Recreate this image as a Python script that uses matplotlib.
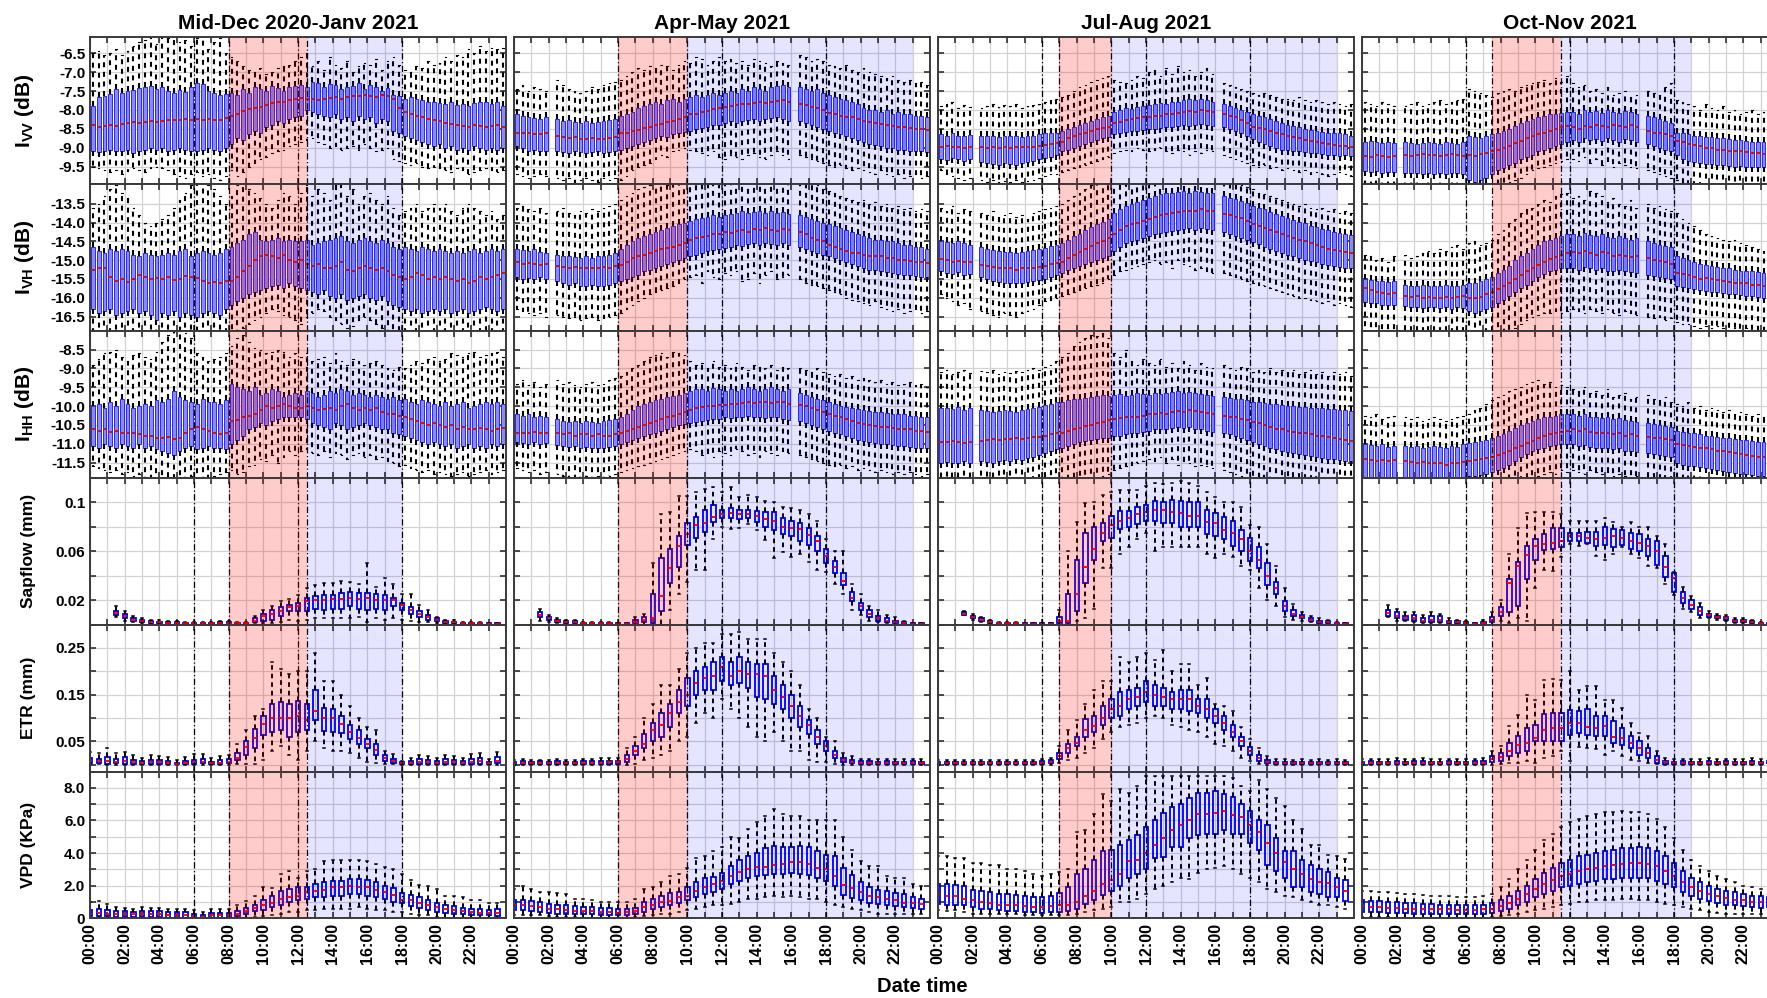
import numpy as np
import matplotlib
matplotlib.use("Agg")
import matplotlib.pyplot as plt
from matplotlib.ticker import FixedLocator, FixedFormatter

nan = float('nan')

# ---------------- radar intensities (72 boxes / day, 20-min steps) ----------------
# Column 1 : Mid-Dec 2020 - Janv 2021
vv1_med = [-8.40,-8.45,-8.42,-8.40,-8.43,-8.38,-8.35,-8.33,-8.36,-8.32,-8.30,-8.31,
           -8.30,-8.28,-8.27,-8.28,-8.25,-8.26,-8.25,-8.27,-8.24,-8.26,-8.28,-8.22,
           -8.15,-8.10,-8.02,-7.98,-7.95,-7.92,-7.88,-7.82,-7.78,-7.80,-7.75,-7.72,
           -7.68,-7.70,-7.72,-7.75,-7.70,-7.68,-7.66,-7.70,-7.65,-7.62,-7.64,-7.60,
           -7.62,-7.65,-7.60,-7.62,-7.70,-7.95,-8.05,-8.10,-8.15,-8.18,-8.25,-8.28,
           -8.30,-8.35,-8.38,-8.40,-8.42,-8.45,-8.40,-8.43,-8.46,-8.42,-8.40,-8.45]
vv1_q3 = [-7.90,-7.65,-7.62,-7.58,-7.45,-7.55,-7.50,-7.48,-7.42,-7.40,-7.38,-7.45,
          -7.40,-7.50,-7.55,-7.48,-7.52,-7.40,-7.28,-7.32,-7.50,-7.55,-7.60,-7.58,
          -7.55,-7.60,-7.45,-7.55,-7.40,-7.45,-7.50,-7.38,-7.42,-7.50,-7.40,-7.38,
          -7.35,-7.40,-7.25,-7.30,-7.40,-7.32,-7.35,-7.45,-7.40,-7.38,-7.30,-7.45,
          -7.35,-7.40,-7.50,-7.42,-7.60,-7.62,-7.70,-7.65,-7.70,-7.75,-7.80,-7.78,
          -7.82,-7.85,-7.80,-7.88,-7.85,-7.90,-7.82,-7.80,-7.78,-7.85,-7.80,-7.90]
vv1_q1 = [-9.10,-9.12,-9.08,-9.05,-9.10,-9.08,-9.05,-9.15,-9.10,-9.05,-9.00,-9.05,
          -9.02,-9.10,-9.05,-9.00,-9.05,-9.08,-9.10,-9.05,-9.00,-9.05,-9.08,-9.02,
          -8.90,-8.75,-8.80,-8.65,-8.55,-8.60,-8.45,-8.40,-8.30,-8.35,-8.25,-8.20,
          -8.15,-8.00,-8.05,-8.10,-8.15,-8.20,-8.10,-8.25,-8.20,-8.30,-8.15,-8.25,
          -8.20,-8.35,-8.25,-8.30,-8.55,-8.60,-8.70,-8.75,-8.80,-8.85,-8.90,-8.95,
          -8.90,-9.00,-8.95,-9.05,-9.00,-9.05,-8.95,-9.00,-9.05,-9.00,-9.05,-9.02]
vv1_hi = [-6.50,-6.45,-6.55,-6.50,-6.40,-6.55,-6.45,-6.30,-6.20,-6.15,-6.10,-6.25,
          -6.05,-6.10,-6.00,-6.20,-6.15,-6.30,-6.10,-6.00,-6.40,-6.20,-6.10,-6.50,
          -6.60,-6.70,-6.85,-6.95,-7.00,-6.90,-7.05,-7.00,-6.90,-6.85,-6.80,-6.70,
          -6.60,-6.50,-6.85,-6.70,-6.95,-6.60,-6.80,-6.90,-6.70,-7.00,-6.85,-6.75,
          -6.80,-6.65,-6.95,-6.70,-6.60,-6.80,-6.95,-7.00,-6.85,-6.90,-6.70,-6.80,
          -6.75,-6.60,-6.70,-6.55,-6.60,-6.40,-6.50,-6.30,-6.45,-6.35,-6.40,-6.35]
vv1_lo = [-9.50,-9.55,-9.60,-9.65,-9.58,-9.70,-9.62,-9.55,-9.60,-9.65,-9.55,-9.50,
          -9.55,-9.60,-9.70,-9.75,-9.80,-9.70,-9.65,-9.75,-9.70,-9.80,-9.85,-9.75,
          -9.60,-9.75,-9.65,-9.50,-9.40,-9.30,-9.25,-9.15,-9.10,-9.05,-8.95,-8.90,
          -8.85,-8.80,-8.75,-8.85,-8.90,-9.00,-8.95,-9.05,-9.00,-8.95,-9.05,-8.90,
          -9.00,-9.10,-9.05,-9.00,-9.30,-9.35,-9.40,-9.45,-9.40,-9.50,-9.55,-9.50,
          -9.55,-9.60,-9.65,-9.55,-9.60,-9.70,-9.65,-9.60,-9.55,-9.60,-9.65,-9.58]

vh1_med = [-15.25,-15.2,-15.22,-15.45,-15.55,-15.5,-15.58,-15.5,-15.4,-15.45,-15.5,-15.48,
           -15.5,-15.45,-15.52,-15.5,-15.42,-15.45,-15.48,-15.55,-15.6,-15.58,-15.6,-15.55,
           -15.55,-15.45,-15.3,-15.15,-15.0,-14.9,-14.85,-14.9,-14.95,-14.85,-15.0,-15.05,
           -15.0,-15.1,-15.15,-15.1,-15.2,-15.2,-15.15,-15.05,-15.25,-15.3,-15.2,-15.15,
           -15.2,-15.25,-15.2,-15.3,-15.4,-15.45,-15.5,-15.45,-15.35,-15.4,-15.5,-15.45,
           -15.5,-15.45,-15.5,-15.55,-15.5,-15.6,-15.55,-15.45,-15.5,-15.45,-15.4,-15.35]
vh1_q3 = [-14.65,-14.75,-14.8,-14.7,-14.75,-14.7,-14.75,-14.85,-14.9,-14.8,-14.85,-14.9,
          -14.85,-14.8,-14.85,-14.75,-14.7,-14.9,-14.8,-14.75,-14.8,-14.85,-14.8,-14.7,
          -14.65,-14.55,-14.45,-14.3,-14.25,-14.45,-14.5,-14.45,-14.4,-14.5,-14.45,-14.5,
          -14.5,-14.45,-14.6,-14.55,-14.5,-14.45,-14.4,-14.35,-14.5,-14.55,-14.45,-14.4,
          -14.5,-14.55,-14.45,-14.55,-14.65,-14.7,-14.65,-14.7,-14.75,-14.65,-14.7,-14.75,
          -14.7,-14.75,-14.8,-14.75,-14.8,-14.75,-14.7,-14.8,-14.75,-14.7,-14.75,-14.7]
vh1_q1 = [-16.3,-16.4,-16.35,-16.3,-16.45,-16.4,-16.35,-16.3,-16.4,-16.35,-16.45,-16.6,
          -16.4,-16.45,-16.35,-16.5,-16.4,-16.45,-16.5,-16.4,-16.35,-16.4,-16.45,-16.3,
          -16.2,-16.1,-16.0,-15.9,-15.85,-15.8,-15.75,-15.7,-15.65,-15.75,-15.6,-15.7,
          -15.75,-15.8,-15.85,-15.9,-15.8,-15.95,-16.0,-15.9,-16.05,-16.0,-15.95,-15.9,
          -16.0,-16.05,-15.95,-16.1,-16.2,-16.25,-16.3,-16.35,-16.3,-16.4,-16.35,-16.3,
          -16.35,-16.3,-16.4,-16.35,-16.3,-16.4,-16.35,-16.3,-16.25,-16.3,-16.35,-16.3]
vh1_hi = [-13.6,-13.5,-13.3,-13.1,-13.0,-13.2,-13.35,-13.6,-13.8,-14.0,-14.1,-14.0,
          -13.9,-13.8,-13.6,-13.4,-13.2,-13.0,-12.9,-12.9,-13.0,-13.1,-13.3,-13.5,
          -13.3,-13.0,-12.9,-13.1,-13.2,-13.35,-13.5,-13.6,-13.4,-13.2,-13.3,-13.5,
          -13.2,-13.0,-13.3,-13.1,-13.2,-13.4,-13.0,-12.9,-13.3,-13.1,-13.5,-13.3,
          -13.2,-13.4,-13.5,-13.3,-13.6,-13.8,-13.7,-13.6,-13.5,-13.7,-13.6,-13.5,
          -13.6,-13.5,-13.7,-13.8,-13.6,-13.5,-13.6,-13.7,-13.8,-13.7,-13.9,-13.8]
vh1_lo = [-16.9,-16.9,-16.85,-16.9,-16.9,-16.95,-16.9,-16.85,-16.9,-16.9,-16.95,-16.9,
          -16.9,-16.95,-16.9,-16.9,-16.9,-16.95,-16.9,-16.9,-16.9,-16.95,-16.9,-16.9,
          -16.9,-16.85,-16.8,-16.7,-16.6,-16.5,-16.4,-16.3,-16.35,-16.45,-16.5,-16.6,
          -16.7,-16.5,-16.4,-16.3,-16.35,-16.5,-16.6,-16.7,-16.8,-16.75,-16.6,-16.5,
          -16.6,-16.7,-16.8,-16.9,-16.9,-16.85,-16.9,-16.9,-16.95,-16.9,-16.9,-16.85,
          -16.9,-16.9,-16.85,-16.9,-16.9,-16.95,-16.9,-16.9,-16.85,-16.9,-16.9,-16.9]

hh1_med = [-10.6,-10.65,-10.62,-10.68,-10.65,-10.7,-10.72,-10.7,-10.75,-10.8,-10.78,-10.85,
           -10.85,-10.82,-10.88,-10.85,-10.7,-10.6,-10.55,-10.6,-10.65,-10.7,-10.75,-10.7,
           -10.4,-10.38,-10.3,-10.25,-10.2,-10.1,-10.0,-10.05,-10.0,-9.95,-10.0,-10.05,
           -10.05,-10.0,-10.05,-10.1,-10.08,-10.05,-10.1,-10.0,-9.95,-10.05,-10.1,-10.05,
           -10.1,-10.05,-10.15,-10.2,-10.2,-10.25,-10.3,-10.35,-10.4,-10.45,-10.5,-10.45,
           -10.5,-10.55,-10.5,-10.6,-10.55,-10.6,-10.62,-10.58,-10.6,-10.65,-10.6,-10.58]
hh1_q3 = [-10.0,-9.95,-10.05,-9.9,-10.0,-9.8,-9.95,-10.05,-10.0,-9.95,-10.0,-9.85,
          -9.9,-9.8,-9.6,-9.75,-9.85,-9.9,-9.95,-9.8,-9.9,-9.9,-9.95,-9.85,
          -9.4,-9.5,-9.55,-9.6,-9.5,-9.7,-9.65,-9.55,-9.6,-9.75,-9.7,-9.65,
          -9.7,-9.6,-9.65,-9.75,-9.7,-9.6,-9.65,-9.55,-9.6,-9.7,-9.65,-9.7,
          -9.75,-9.7,-9.75,-9.8,-9.75,-9.85,-9.8,-9.9,-9.95,-9.85,-9.9,-9.95,
          -10.0,-9.9,-10.0,-9.95,-9.9,-10.05,-10.0,-9.95,-9.9,-9.95,-9.9,-9.95]
hh1_q1 = [-11.05,-11.1,-11.0,-11.05,-11.1,-11.0,-11.05,-11.1,-11.0,-11.1,-11.05,-11.15,
          -11.2,-11.25,-11.3,-11.2,-11.1,-11.05,-11.15,-11.1,-11.05,-11.1,-11.1,-11.15,
          -11.0,-10.9,-10.8,-10.6,-10.55,-10.45,-10.5,-10.4,-10.35,-10.3,-10.3,-10.3,
          -10.3,-10.35,-10.45,-10.5,-10.55,-10.6,-10.45,-10.5,-10.6,-10.55,-10.5,-10.45,
          -10.5,-10.55,-10.6,-10.6,-10.7,-10.75,-10.8,-10.85,-10.9,-10.95,-11.0,-10.95,
          -11.0,-11.05,-11.0,-11.1,-11.05,-11.0,-11.1,-11.05,-11.1,-11.0,-11.05,-11.0]
hh1_hi = [-8.9,-8.75,-8.6,-8.55,-8.5,-8.7,-8.8,-8.65,-8.6,-8.7,-8.75,-8.55,
          -8.3,-8.1,-8.0,-8.0,-8.05,-8.2,-8.6,-8.7,-8.8,-8.75,-8.7,-8.6,
          -8.4,-8.2,-8.1,-8.3,-8.45,-8.5,-8.6,-8.55,-8.5,-8.55,-8.7,-8.6,
          -8.7,-8.6,-8.8,-8.75,-8.7,-8.85,-8.6,-8.8,-8.9,-8.75,-8.8,-8.9,
          -8.85,-8.8,-8.9,-9.0,-9.05,-8.95,-9.0,-8.9,-8.8,-8.85,-8.75,-8.7,
          -8.8,-8.75,-8.6,-8.65,-8.7,-8.6,-8.55,-8.7,-8.65,-8.6,-8.55,-8.7]
hh1_lo = [-11.6,-11.65,-11.7,-11.75,-11.7,-11.8,-11.75,-11.85,-11.8,-11.9,-11.85,-11.95,
          -11.9,-11.95,-11.9,-11.95,-11.9,-11.85,-11.9,-11.95,-11.9,-11.85,-11.8,-11.75,
          -11.7,-11.8,-11.75,-11.6,-11.55,-11.4,-11.45,-11.3,-11.5,-11.35,-11.2,-11.3,
          -11.2,-11.15,-11.25,-11.3,-11.2,-11.35,-11.25,-11.3,-11.4,-11.3,-11.25,-11.35,
          -11.3,-11.4,-11.35,-11.45,-11.5,-11.6,-11.55,-11.65,-11.7,-11.75,-11.7,-11.8,
          -11.75,-11.8,-11.85,-11.8,-11.75,-11.85,-11.8,-11.75,-11.7,-11.8,-11.75,-11.7]

# Column 2 : Apr-May 2021
vv2_med = [-8.6,-8.62,-8.6,-8.63,-8.65,-8.62,nan,-8.7,-8.72,-8.74,-8.73,-8.76,
           -8.78,-8.75,-8.77,-8.76,-8.74,-8.72,-8.62,-8.6,-8.55,-8.52,-8.48,-8.45,
           -8.4,-8.38,-8.33,-8.3,-8.25,-8.2,-8.12,-8.1,-8.05,-8.02,-7.98,-7.95,
           -7.92,-7.9,-7.88,-7.85,-7.84,-7.82,-7.8,-7.82,-7.78,-7.76,-7.75,-7.78,
           nan,-7.85,-7.88,-7.92,-7.95,-8.0,-8.08,-8.1,-8.15,-8.18,-8.2,-8.25,
           -8.3,-8.32,-8.35,-8.38,-8.4,-8.42,-8.45,-8.45,-8.48,-8.5,-8.5,-8.52]
vv2_q3 = [-8.1,-8.15,-8.2,-8.22,-8.25,-8.2,nan,-8.25,-8.3,-8.28,-8.32,-8.35,
          -8.3,-8.35,-8.32,-8.3,-8.28,-8.25,-8.15,-8.1,-8.05,-7.95,-7.9,-7.85,
          -7.8,-7.85,-7.75,-7.7,-7.8,-7.7,-7.65,-7.6,-7.65,-7.6,-7.55,-7.6,
          -7.55,-7.5,-7.55,-7.45,-7.5,-7.4,-7.45,-7.5,-7.4,-7.38,-7.35,-7.4,
          nan,-7.4,-7.45,-7.5,-7.45,-7.55,-7.6,-7.65,-7.7,-7.75,-7.8,-7.85,
          -7.95,-8.0,-8.0,-8.05,-8.0,-8.1,-8.05,-8.1,-8.1,-8.15,-8.15,-8.2]
vv2_q1 = [-8.95,-9.0,-9.1,-9.05,-9.08,-9.1,nan,-9.1,-9.12,-9.15,-9.1,-9.12,
          -9.15,-9.12,-9.1,-9.15,-9.12,-9.1,-9.05,-9.0,-8.95,-8.9,-8.85,-8.8,
          -8.75,-8.7,-8.72,-8.65,-8.6,-8.58,-8.55,-8.5,-8.48,-8.45,-8.4,-8.4,
          -8.35,-8.3,-8.35,-8.3,-8.28,-8.25,-8.3,-8.25,-8.22,-8.2,-8.25,-8.3,
          nan,-8.3,-8.35,-8.4,-8.45,-8.5,-8.55,-8.6,-8.65,-8.7,-8.75,-8.8,
          -8.85,-8.9,-8.92,-8.95,-9.0,-9.0,-9.05,-9.05,-9.08,-9.1,-9.1,-9.12]
vv2_hi = [-7.45,-7.35,-7.5,-7.4,-7.45,-7.5,nan,-7.2,-7.35,-7.45,-7.5,-7.55,
          -7.5,-7.4,-7.45,-7.35,-7.3,-7.25,-7.2,-7.1,-7.0,-6.9,-6.95,-6.85,
          -6.9,-6.8,-6.85,-6.95,-6.8,-6.7,-6.75,-6.6,-6.65,-6.8,-6.7,-6.6,
          -6.7,-6.65,-6.75,-6.7,-6.8,-6.65,-6.7,-6.75,-6.85,-6.7,-6.75,-6.8,
          nan,-6.55,-6.6,-6.7,-6.65,-6.7,-6.8,-6.85,-6.9,-6.8,-6.95,-7.0,
          -6.9,-7.0,-7.05,-7.1,-7.15,-7.1,-7.2,-7.25,-7.2,-7.3,-7.25,-7.35]
vv2_lo = [-9.7,-9.75,-9.8,-9.75,-9.7,-9.75,nan,-9.8,-9.85,-9.8,-9.9,-9.85,
          -9.8,-9.85,-9.9,-9.8,-9.85,-9.8,-9.85,-9.75,-9.6,-9.5,-9.45,-9.4,
          -9.3,-9.2,-9.25,-9.1,-9.05,-9.0,-9.05,-9.1,-9.15,-9.2,-9.1,-9.25,
          -9.3,-9.2,-9.25,-9.3,-9.2,-9.15,-9.25,-9.3,-9.2,-9.1,-9.2,-9.3,
          nan,-9.2,-9.25,-9.3,-9.35,-9.4,-9.45,-9.5,-9.45,-9.55,-9.6,-9.55,
          -9.6,-9.65,-9.7,-9.6,-9.7,-9.75,-9.7,-9.8,-9.75,-9.7,-9.8,-9.75]

vh2_med = [-15.05,-15.1,-15.08,-15.1,-15.12,-15.1,nan,-15.15,-15.18,-15.2,-15.18,-15.2,
           -15.22,-15.2,-15.2,-15.18,-15.2,-15.15,-15.12,-15.05,-14.95,-14.9,-14.85,-14.8,
           -14.75,-14.7,-14.68,-14.65,-14.6,-14.55,-14.45,-14.4,-14.38,-14.35,-14.3,-14.3,
           -14.25,-14.28,-14.22,-14.2,-14.25,-14.18,-14.2,-14.15,-14.2,-14.22,-14.18,-14.2,
           nan,-14.25,-14.3,-14.4,-14.45,-14.5,-14.6,-14.65,-14.7,-14.75,-14.8,-14.82,
           -14.85,-14.88,-14.9,-14.9,-14.95,-14.95,-15.0,-15.0,-15.02,-15.05,-15.05,-15.08]
vh2_q3 = [-14.7,-14.72,-14.75,-14.7,-14.78,-14.8,nan,-14.85,-14.9,-14.88,-14.92,-14.95,
          -14.9,-14.95,-14.9,-14.88,-14.85,-14.8,-14.7,-14.6,-14.5,-14.4,-14.35,-14.3,
          -14.25,-14.2,-14.15,-14.1,-14.05,-14.0,-13.95,-13.9,-13.88,-13.85,-13.8,-13.85,
          -13.8,-13.78,-13.75,-13.7,-13.75,-13.72,-13.7,-13.75,-13.7,-13.75,-13.72,-13.78,
          nan,-13.8,-13.85,-13.9,-13.95,-14.0,-14.05,-14.1,-14.15,-14.2,-14.25,-14.3,
          -14.35,-14.4,-14.45,-14.45,-14.5,-14.5,-14.55,-14.6,-14.6,-14.65,-14.65,-14.7]
vh2_q1 = [-15.45,-15.5,-15.48,-15.5,-15.45,-15.5,nan,-15.55,-15.6,-15.65,-15.62,-15.68,
          -15.7,-15.65,-15.68,-15.7,-15.65,-15.6,-15.55,-15.5,-15.45,-15.4,-15.3,-15.25,
          -15.2,-15.15,-15.1,-15.05,-15.0,-14.95,-14.9,-14.85,-14.8,-14.75,-14.72,-14.7,
          -14.68,-14.65,-14.6,-14.62,-14.58,-14.55,-14.6,-14.55,-14.58,-14.6,-14.55,-14.6,
          nan,-14.65,-14.7,-14.75,-14.8,-14.85,-14.9,-14.95,-15.0,-15.05,-15.1,-15.15,
          -15.2,-15.25,-15.25,-15.3,-15.32,-15.35,-15.38,-15.4,-15.4,-15.42,-15.45,-15.45]
vh2_hi = [-13.6,-13.55,-13.65,-13.7,-13.6,-13.75,nan,-13.7,-13.6,-13.75,-13.8,-13.7,
          -13.75,-13.65,-13.7,-13.6,-13.55,-13.5,-13.4,-13.3,-13.2,-13.1,-13.05,-13.0,
          -12.95,-12.9,-13.0,-12.9,-12.9,-12.95,-12.9,-12.9,-12.9,-12.9,-12.9,-12.9,
          -12.9,-12.9,-12.9,-12.9,-12.9,-12.9,-12.9,-12.9,-12.9,-12.9,-12.9,-12.9,
          nan,-12.9,-12.9,-12.95,-13.0,-13.1,-13.15,-13.2,-13.3,-13.35,-13.4,-13.45,
          -13.4,-13.5,-13.45,-13.55,-13.5,-13.6,-13.55,-13.65,-13.6,-13.7,-13.65,-13.7]
vh2_lo = [-16.3,-16.35,-16.4,-16.45,-16.4,-16.5,nan,-16.45,-16.5,-16.55,-16.5,-16.6,
          -16.55,-16.5,-16.6,-16.55,-16.5,-16.45,-16.4,-16.3,-16.2,-16.1,-16.0,-15.9,
          -15.85,-15.8,-15.75,-15.7,-15.6,-15.5,-15.45,-15.4,-15.6,-15.3,-15.45,-15.5,
          -15.35,-15.4,-15.3,-15.55,-15.5,-15.35,-15.6,-15.4,-15.3,-15.5,-15.45,-15.4,
          nan,-15.5,-15.6,-15.65,-15.7,-15.75,-15.8,-15.85,-15.9,-16.0,-16.05,-16.1,
          -16.15,-16.2,-16.1,-16.25,-16.3,-16.35,-16.3,-16.4,-16.35,-16.3,-16.4,-16.35]

hh2_med = [-10.7,-10.72,-10.7,-10.68,-10.72,-10.7,nan,-10.72,-10.75,-10.72,-10.78,-10.75,
           -10.75,-10.78,-10.75,-10.8,-10.78,-10.75,-10.72,-10.65,-10.6,-10.55,-10.5,-10.45,
           -10.4,-10.35,-10.3,-10.25,-10.2,-10.15,-10.1,-10.05,-10.02,-10.0,-10.0,-9.98,
           -9.98,-9.95,-9.95,-9.92,-9.9,-9.92,-9.88,-9.9,-9.92,-9.88,-9.9,-9.95,
           nan,-9.98,-10.0,-10.05,-10.1,-10.15,-10.2,-10.25,-10.3,-10.35,-10.4,-10.45,
           -10.48,-10.5,-10.52,-10.55,-10.55,-10.58,-10.6,-10.6,-10.62,-10.65,-10.65,-10.68]
hh2_q3 = [-10.2,-10.25,-10.22,-10.28,-10.25,-10.3,nan,-10.35,-10.4,-10.42,-10.4,-10.45,
          -10.4,-10.42,-10.45,-10.4,-10.38,-10.35,-10.3,-10.2,-10.1,-10.0,-9.95,-9.9,
          -9.85,-9.8,-9.75,-9.72,-9.7,-9.65,-9.6,-9.55,-9.55,-9.6,-9.52,-9.55,
          -9.6,-9.55,-9.6,-9.55,-9.5,-9.55,-9.6,-9.55,-9.5,-9.55,-9.6,-9.55,
          nan,-9.65,-9.7,-9.75,-9.8,-9.85,-9.9,-9.95,-10.0,-10.02,-10.05,-10.08,
          -10.1,-10.12,-10.15,-10.15,-10.18,-10.2,-10.2,-10.22,-10.25,-10.25,-10.28,-10.3]
hh2_q1 = [-10.95,-10.98,-11.0,-10.95,-11.0,-10.98,nan,-11.02,-11.05,-11.08,-11.05,-11.1,
          -11.08,-11.1,-11.12,-11.1,-11.08,-11.05,-11.0,-10.95,-10.9,-10.85,-10.8,-10.75,
          -10.7,-10.65,-10.6,-10.55,-10.5,-10.48,-10.45,-10.42,-10.4,-10.38,-10.35,-10.35,
          -10.3,-10.32,-10.28,-10.3,-10.25,-10.28,-10.3,-10.32,-10.28,-10.3,-10.35,-10.38,
          nan,-10.4,-10.45,-10.5,-10.55,-10.6,-10.65,-10.7,-10.75,-10.8,-10.85,-10.9,
          -10.92,-10.95,-10.98,-11.0,-11.0,-11.02,-11.05,-11.05,-11.08,-11.1,-11.1,-11.12]
hh2_hi = [-9.4,-9.3,-9.45,-9.35,-9.5,-9.4,nan,-9.3,-9.4,-9.35,-9.45,-9.5,
          -9.4,-9.35,-9.45,-9.4,-9.3,-9.25,-9.2,-9.1,-9.0,-8.9,-8.8,-8.7,
          -8.65,-8.6,-8.7,-8.55,-8.6,-8.65,-8.8,-8.9,-8.85,-9.0,-8.8,-8.95,
          -8.9,-9.0,-8.85,-8.95,-9.05,-8.9,-8.95,-9.0,-8.9,-9.05,-8.95,-9.0,
          nan,-9.0,-9.05,-9.1,-9.0,-9.1,-9.15,-9.2,-9.15,-9.25,-9.2,-9.3,
          -9.25,-9.3,-9.35,-9.3,-9.4,-9.35,-9.45,-9.4,-9.35,-9.45,-9.4,-9.5]
hh2_lo = [-11.65,-11.7,-11.75,-11.7,-11.8,-11.75,nan,-11.8,-11.85,-11.9,-11.85,-11.9,
          -11.85,-11.9,-11.85,-11.9,-11.85,-11.8,-11.75,-11.7,-11.65,-11.6,-11.55,-11.5,
          -11.45,-11.4,-11.35,-11.3,-11.25,-11.2,-11.15,-11.2,-11.3,-11.25,-11.35,-11.2,
          -11.25,-11.3,-11.15,-11.2,-11.3,-11.25,-11.35,-11.2,-11.25,-11.3,-11.2,-11.25,
          nan,-11.3,-11.35,-11.4,-11.45,-11.5,-11.55,-11.6,-11.55,-11.65,-11.6,-11.7,
          -11.65,-11.7,-11.75,-11.7,-11.75,-11.8,-11.75,-11.8,-11.75,-11.8,-11.85,-11.8]

# Column 3 : Jul-Aug 2021
vv3_med = [-8.98,-8.96,-8.99,-8.97,-9.0,-8.98,nan,-8.99,-9.0,-8.98,-9.0,-8.99,
           -9.0,-8.98,-8.99,-8.97,-8.98,-8.95,-8.92,-8.9,-8.88,-8.85,-8.75,-8.7,
           -8.65,-8.6,-8.55,-8.5,-8.48,-8.45,-8.35,-8.32,-8.28,-8.25,-8.22,-8.2,
           -8.18,-8.15,-8.15,-8.12,-8.1,-8.08,-8.05,-8.02,-8.05,-8.0,-8.02,-8.05,
           nan,-8.1,-8.15,-8.2,-8.28,-8.35,-8.45,-8.48,-8.5,-8.55,-8.6,-8.65,
           -8.7,-8.72,-8.75,-8.8,-8.82,-8.85,-8.88,-8.9,-8.92,-8.95,-8.95,-8.98]
vv3_q3 = [-8.65,-8.7,-8.62,-8.68,-8.7,-8.66,nan,-8.68,-8.7,-8.68,-8.72,-8.7,
          -8.7,-8.68,-8.72,-8.7,-8.68,-8.65,-8.62,-8.6,-8.6,-8.55,-8.5,-8.45,
          -8.4,-8.35,-8.3,-8.25,-8.2,-8.15,-8.05,-8.0,-7.95,-7.98,-7.92,-7.9,
          -7.88,-7.85,-7.82,-7.85,-7.8,-7.78,-7.75,-7.72,-7.75,-7.7,-7.75,-7.78,
          nan,-7.85,-7.9,-7.95,-8.0,-8.05,-8.1,-8.15,-8.2,-8.25,-8.3,-8.35,
          -8.4,-8.42,-8.45,-8.5,-8.52,-8.55,-8.58,-8.6,-8.62,-8.62,-8.65,-8.68]
vv3_q1 = [-9.3,-9.32,-9.28,-9.3,-9.35,-9.3,nan,-9.38,-9.4,-9.42,-9.45,-9.4,
          -9.42,-9.45,-9.4,-9.38,-9.35,-9.3,-9.28,-9.25,-9.2,-9.1,-9.05,-9.0,
          -8.95,-8.9,-8.85,-8.8,-8.75,-8.72,-8.65,-8.6,-8.58,-8.55,-8.55,-8.52,
          -8.5,-8.5,-8.48,-8.45,-8.45,-8.42,-8.4,-8.42,-8.4,-8.38,-8.4,-8.42,
          nan,-8.45,-8.5,-8.55,-8.62,-8.7,-8.78,-8.85,-8.9,-8.95,-9.0,-9.05,
          -9.05,-9.08,-9.1,-9.12,-9.15,-9.15,-9.18,-9.2,-9.2,-9.22,-9.2,-9.22]
vv3_hi = [-7.9,-7.85,-7.8,-7.95,-7.88,-7.92,nan,-7.95,-7.9,-7.85,-7.92,-7.88,
          -7.9,-7.85,-7.95,-7.9,-7.88,-7.85,-7.8,-7.75,-7.7,-7.65,-7.6,-7.5,
          -7.4,-7.35,-7.25,-7.2,-7.15,-7.1,-7.2,-7.25,-7.3,-7.2,-7.1,-7.15,
          -7.0,-6.95,-7.1,-6.9,-7.05,-6.85,-7.0,-6.95,-7.1,-7.0,-6.9,-7.05,
          nan,-7.3,-7.35,-7.4,-7.45,-7.5,-7.55,-7.6,-7.55,-7.6,-7.65,-7.7,
          -7.7,-7.75,-7.65,-7.75,-7.8,-7.75,-7.8,-7.85,-7.8,-7.85,-7.9,-7.85]
vv3_lo = [-9.6,-9.7,-9.75,-9.8,-9.85,-9.8,nan,-9.85,-9.9,-9.85,-9.9,-9.88,
          -9.9,-9.85,-9.9,-9.88,-9.85,-9.8,-9.75,-9.7,-9.7,-9.65,-9.6,-9.55,
          -9.5,-9.45,-9.4,-9.35,-9.3,-9.25,-9.15,-9.1,-9.05,-9.1,-9.0,-9.05,
          -9.1,-9.05,-9.0,-9.1,-9.15,-9.05,-9.1,-9.2,-9.1,-9.15,-9.05,-9.1,
          nan,-9.2,-9.25,-9.3,-9.35,-9.4,-9.45,-9.5,-9.45,-9.55,-9.5,-9.6,
          -9.55,-9.6,-9.65,-9.6,-9.7,-9.65,-9.7,-9.75,-9.7,-9.65,-9.7,-9.75]

vh3_med = [-14.98,-15.0,-15.05,-15.02,-15.05,-15.05,nan,-15.12,-15.15,-15.18,-15.2,-15.22,
           -15.22,-15.25,-15.22,-15.2,-15.2,-15.18,-15.15,-15.1,-15.08,-15.05,-14.95,-14.85,
           -14.78,-14.7,-14.62,-14.55,-14.48,-14.42,-14.3,-14.2,-14.1,-14.05,-14.0,-13.95,
           -13.9,-13.85,-13.8,-13.78,-13.75,-13.72,-13.7,-13.68,-13.7,-13.65,-13.68,-13.7,
           nan,-13.78,-13.8,-13.85,-13.88,-13.95,-14.05,-14.1,-14.15,-14.2,-14.25,-14.3,
           -14.35,-14.4,-14.45,-14.5,-14.55,-14.6,-14.65,-14.7,-14.72,-14.75,-14.78,-14.8]
vh3_q3 = [-14.5,-14.52,-14.55,-14.5,-14.55,-14.6,nan,-14.65,-14.7,-14.72,-14.75,-14.78,
          -14.78,-14.8,-14.78,-14.75,-14.72,-14.7,-14.68,-14.62,-14.6,-14.55,-14.45,-14.35,
          -14.3,-14.2,-14.12,-14.05,-13.98,-13.9,-13.75,-13.65,-13.55,-13.5,-13.45,-13.4,
          -13.35,-13.3,-13.25,-13.2,-13.22,-13.18,-13.15,-13.2,-13.15,-13.18,-13.2,-13.22,
          nan,-13.3,-13.35,-13.38,-13.42,-13.48,-13.55,-13.6,-13.65,-13.72,-13.78,-13.82,
          -13.88,-13.92,-13.98,-14.02,-14.08,-14.12,-14.18,-14.2,-14.25,-14.28,-14.3,-14.32]
vh3_q1 = [-15.3,-15.35,-15.38,-15.32,-15.4,-15.38,nan,-15.45,-15.5,-15.55,-15.58,-15.6,
          -15.6,-15.62,-15.6,-15.58,-15.55,-15.52,-15.5,-15.45,-15.4,-15.35,-15.25,-15.2,
          -15.15,-15.1,-15.05,-15.0,-14.95,-14.88,-14.75,-14.65,-14.55,-14.5,-14.45,-14.4,
          -14.35,-14.3,-14.28,-14.25,-14.22,-14.2,-14.18,-14.15,-14.2,-14.15,-14.18,-14.2,
          nan,-14.25,-14.3,-14.35,-14.4,-14.45,-14.52,-14.58,-14.65,-14.7,-14.75,-14.8,
          -14.85,-14.9,-14.95,-15.0,-15.02,-15.05,-15.1,-15.12,-15.15,-15.18,-15.2,-15.22]
vh3_hi = [-13.6,-13.7,-13.55,-13.75,-13.65,-13.7,nan,-13.75,-13.8,-13.7,-13.85,-13.8,
          -13.75,-13.85,-13.8,-13.9,-13.75,-13.7,-13.65,-13.6,-13.55,-13.5,-13.4,-13.3,
          -13.2,-13.1,-13.0,-12.95,-12.9,-12.9,-12.9,-12.9,-12.9,-12.9,-12.9,-12.9,
          -12.9,-12.9,-12.9,-12.9,-12.9,-12.9,-12.9,-12.9,-12.9,-12.9,-12.9,-12.9,
          nan,-12.9,-12.9,-12.95,-13.0,-13.05,-13.1,-13.2,-13.25,-13.3,-13.35,-13.4,
          -13.45,-13.5,-13.55,-13.5,-13.6,-13.65,-13.6,-13.7,-13.65,-13.75,-13.7,-13.75]
vh3_lo = [-15.9,-16.0,-16.1,-16.2,-16.15,-16.3,nan,-16.35,-16.4,-16.45,-16.5,-16.4,
          -16.45,-16.5,-16.4,-16.35,-16.3,-16.2,-16.1,-16.05,-16.0,-15.95,-15.9,-15.85,
          -15.8,-15.75,-15.7,-15.65,-15.6,-15.5,-15.4,-15.3,-15.25,-15.2,-15.15,-15.1,
          -15.05,-15.0,-15.1,-15.05,-15.2,-15.0,-15.1,-15.15,-15.25,-15.2,-15.3,-15.35,
          nan,-15.35,-15.4,-15.45,-15.5,-15.55,-15.6,-15.65,-15.7,-15.75,-15.8,-15.85,
          -15.9,-15.95,-16.0,-16.0,-16.05,-16.1,-16.15,-16.1,-16.2,-16.15,-16.2,-16.25]

hh3_med = [-10.95,-10.96,-10.93,-10.95,-10.97,-10.95,nan,-10.92,-10.9,-10.88,-10.9,-10.86,
           -10.88,-10.85,-10.87,-10.85,-10.83,-10.82,-10.78,-10.75,-10.72,-10.7,-10.65,-10.6,
           -10.58,-10.52,-10.5,-10.45,-10.42,-10.38,-10.35,-10.32,-10.3,-10.3,-10.28,-10.25,
           -10.22,-10.2,-10.18,-10.2,-10.15,-10.12,-10.15,-10.1,-10.12,-10.15,-10.18,-10.2,
           nan,-10.25,-10.28,-10.3,-10.35,-10.38,-10.42,-10.45,-10.5,-10.55,-10.6,-10.62,
           -10.65,-10.68,-10.7,-10.72,-10.75,-10.78,-10.8,-10.82,-10.85,-10.88,-10.9,-10.92]
hh3_q3 = [-10.05,-10.05,-10.08,-10.02,-10.1,-10.05,nan,-10.1,-10.12,-10.15,-10.12,-10.1,
          -10.12,-10.15,-10.1,-10.08,-10.05,-10.02,-9.98,-9.95,-9.9,-9.88,-9.85,-9.82,
          -9.8,-9.78,-9.75,-9.72,-9.7,-9.72,-9.7,-9.68,-9.72,-9.7,-9.65,-9.68,
          -9.7,-9.65,-9.68,-9.65,-9.62,-9.6,-9.65,-9.62,-9.65,-9.68,-9.7,-9.72,
          nan,-9.75,-9.78,-9.8,-9.82,-9.85,-9.88,-9.9,-9.92,-9.95,-9.95,-9.98,
          -10.0,-10.0,-10.02,-10.03,-10.05,-10.05,-10.06,-10.08,-10.08,-10.1,-10.1,-10.12]
hh3_q1 = [-11.5,-11.48,-11.52,-11.5,-11.45,-11.5,nan,-11.45,-11.48,-11.5,-11.45,-11.42,
          -11.45,-11.4,-11.42,-11.38,-11.35,-11.3,-11.25,-11.2,-11.15,-11.1,-11.05,-11.0,
          -10.95,-10.92,-10.9,-10.88,-10.85,-10.85,-10.8,-10.78,-10.75,-10.72,-10.7,-10.68,
          -10.65,-10.62,-10.6,-10.62,-10.58,-10.55,-10.58,-10.55,-10.6,-10.62,-10.65,-10.68,
          nan,-10.72,-10.75,-10.8,-10.85,-10.9,-10.95,-11.0,-11.05,-11.1,-11.15,-11.2,
          -11.22,-11.25,-11.28,-11.3,-11.32,-11.35,-11.38,-11.4,-11.4,-11.42,-11.45,-11.45]
hh3_hi = [-9.1,-9.05,-9.15,-9.1,-9.05,-9.12,nan,-9.08,-9.1,-9.05,-9.15,-9.1,
          -9.12,-9.08,-9.1,-9.05,-9.0,-9.05,-8.95,-8.9,-8.8,-8.7,-8.6,-8.4,
          -8.3,-8.2,-8.1,-8.15,-8.05,-8.2,-8.6,-8.7,-8.5,-8.8,-8.9,-8.75,
          -8.85,-8.9,-8.75,-8.95,-8.85,-9.0,-8.8,-8.9,-9.05,-8.85,-8.95,-9.0,
          nan,-8.9,-9.0,-9.05,-8.95,-9.0,-9.1,-9.05,-9.1,-9.0,-9.1,-9.05,
          -9.1,-9.05,-9.15,-9.1,-9.05,-9.15,-9.1,-9.2,-9.1,-9.15,-9.1,-9.2]
hh3_lo = [-11.95,-11.95,-11.95,-11.95,-11.95,-11.95,nan,-11.95,-11.95,-11.95,-11.95,-11.95,
          -11.95,-11.95,-11.95,-11.95,-11.95,-11.95,-11.95,-11.95,-11.95,-11.95,-11.95,-11.95,
          -11.95,-11.95,-11.95,-11.9,-11.85,-11.8,-11.7,-11.65,-11.6,-11.55,-11.5,-11.45,
          -11.4,-11.45,-11.35,-11.5,-11.4,-11.55,-11.45,-11.5,-11.6,-11.55,-11.6,-11.65,
          nan,-11.7,-11.75,-11.8,-11.85,-11.9,-11.95,-11.95,-11.95,-11.95,-11.95,-11.95,
          -11.95,-11.95,-11.95,-11.95,-11.95,-11.95,-11.95,-11.95,-11.95,-11.95,-11.95,-11.95]

# Column 4 : Oct-Nov 2021
vv4_med = [-9.22,-9.25,-9.2,-9.23,-9.25,-9.22,nan,-9.2,-9.22,-9.2,-9.18,-9.2,
           -9.2,-9.22,-9.2,-9.18,-9.2,-9.22,-9.2,-9.22,-9.18,-9.15,-9.1,-9.05,
           -9.0,-8.95,-8.88,-8.82,-8.75,-8.7,-8.65,-8.6,-8.55,-8.5,-8.45,-8.42,
           -8.45,-8.5,-8.42,-8.45,-8.4,-8.42,-8.45,-8.4,-8.42,-8.45,-8.4,-8.45,
           nan,-8.55,-8.6,-8.62,-8.65,-8.7,-8.82,-8.85,-8.9,-8.92,-8.95,-9.0,
           -9.02,-9.05,-9.05,-9.08,-9.1,-9.1,-9.12,-9.15,-9.15,-9.18,-9.18,-9.2]
vv4_q3 = [-8.85,-8.82,-8.85,-8.88,-8.85,-8.88,nan,-8.85,-8.88,-8.9,-8.88,-8.85,
          -8.88,-8.9,-8.85,-8.88,-8.9,-8.85,-8.7,-8.72,-8.75,-8.7,-8.65,-8.6,
          -8.55,-8.5,-8.42,-8.35,-8.3,-8.25,-8.2,-8.15,-8.12,-8.1,-8.08,-8.05,
          -8.05,-8.1,-8.0,-8.05,-8.02,-8.08,-8.0,-8.05,-8.08,-8.02,-8.05,-8.1,
          nan,-8.15,-8.2,-8.25,-8.3,-8.35,-8.6,-8.62,-8.65,-8.68,-8.7,-8.72,
          -8.72,-8.75,-8.75,-8.78,-8.8,-8.8,-8.82,-8.85,-8.85,-8.85,-8.88,-8.88]
vv4_q1 = [-9.62,-9.65,-9.63,-9.66,-9.65,-9.64,nan,-9.66,-9.68,-9.67,-9.7,-9.68,
          -9.7,-9.68,-9.7,-9.66,-9.68,-9.7,-9.85,-9.9,-9.85,-9.8,-9.7,-9.6,
          -9.55,-9.45,-9.4,-9.3,-9.25,-9.2,-9.1,-9.05,-9.0,-8.95,-8.9,-8.85,
          -8.8,-8.85,-8.75,-8.8,-8.78,-8.82,-8.75,-8.8,-8.85,-8.78,-8.8,-8.85,
          nan,-8.9,-8.95,-9.0,-9.05,-9.1,-9.2,-9.3,-9.35,-9.38,-9.4,-9.42,
          -9.42,-9.45,-9.45,-9.48,-9.5,-9.48,-9.5,-9.5,-9.52,-9.5,-9.52,-9.55]
vv4_hi = [-7.8,-7.85,-7.9,-7.8,-7.85,-7.9,nan,-7.9,-7.85,-7.8,-7.9,-7.85,
          -7.8,-7.75,-7.85,-7.8,-7.75,-7.7,-7.45,-7.5,-7.55,-7.6,-7.65,-7.55,
          -7.5,-7.45,-7.5,-7.4,-7.35,-7.3,-7.25,-7.2,-7.3,-7.15,-7.25,-7.1,
          -7.3,-7.4,-7.35,-7.5,-7.45,-7.55,-7.4,-7.6,-7.55,-7.5,-7.65,-7.6,
          nan,-7.5,-7.55,-7.6,-7.4,-7.3,-7.75,-7.8,-7.85,-7.9,-8.0,-7.85,
          -7.95,-8.0,-7.9,-8.05,-8.0,-8.1,-8.05,-8.0,-8.1,-8.05,-8.1,-8.15]
vv4_lo = [-9.95,-9.95,-9.95,-9.95,-9.95,-9.95,nan,-9.95,-9.95,-9.95,-9.95,-9.95,
          -9.95,-9.95,-9.95,-9.95,-9.95,-9.95,-9.95,-9.95,-9.95,-9.95,-9.95,-9.95,
          -9.95,-9.9,-9.85,-9.8,-9.7,-9.6,-9.55,-9.5,-9.45,-9.4,-9.35,-9.3,
          -9.3,-9.35,-9.25,-9.4,-9.3,-9.45,-9.35,-9.5,-9.4,-9.45,-9.5,-9.55,
          nan,-9.6,-9.65,-9.7,-9.75,-9.8,-9.85,-9.9,-9.95,-9.95,-9.95,-9.95,
          -9.95,-9.95,-9.95,-9.95,-9.95,-9.95,-9.95,-9.95,-9.95,-9.95,-9.95,-9.95]

vh4_med = [-15.75,-15.8,-15.85,-15.88,-15.9,-15.88,nan,-15.95,-15.98,-15.95,-16.0,-15.98,
           -16.0,-16.02,-15.98,-16.0,-15.98,-15.95,-16.0,-16.02,-15.98,-15.9,-15.85,-15.78,
           -15.7,-15.6,-15.5,-15.4,-15.3,-15.2,-15.12,-15.05,-14.98,-14.92,-14.85,-14.8,
           -14.78,-14.82,-14.75,-14.8,-14.85,-14.78,-14.82,-14.9,-14.85,-14.88,-14.92,-14.9,
           nan,-14.95,-15.0,-15.02,-15.05,-15.1,-15.35,-15.38,-15.4,-15.45,-15.5,-15.48,
           -15.5,-15.52,-15.55,-15.58,-15.6,-15.62,-15.6,-15.65,-15.65,-15.68,-15.7,-15.72]
vh4_q3 = [-15.5,-15.52,-15.55,-15.55,-15.58,-15.55,nan,-15.65,-15.68,-15.7,-15.65,-15.68,
          -15.7,-15.68,-15.65,-15.7,-15.68,-15.65,-15.6,-15.62,-15.55,-15.5,-15.45,-15.35,
          -15.25,-15.15,-15.0,-14.9,-14.8,-14.7,-14.6,-14.5,-14.45,-14.4,-14.35,-14.3,
          -14.3,-14.35,-14.28,-14.32,-14.35,-14.3,-14.38,-14.4,-14.35,-14.42,-14.45,-14.4,
          nan,-14.5,-14.55,-14.6,-14.62,-14.65,-14.9,-14.95,-15.0,-15.05,-15.1,-15.12,
          -15.15,-15.18,-15.2,-15.22,-15.25,-15.28,-15.3,-15.3,-15.32,-15.35,-15.38,-15.4]
vh4_q1 = [-16.12,-16.15,-16.15,-16.18,-16.2,-16.18,nan,-16.22,-16.25,-16.25,-16.28,-16.25,
          -16.25,-16.28,-16.25,-16.3,-16.25,-16.28,-16.35,-16.4,-16.35,-16.3,-16.25,-16.15,
          -16.05,-15.95,-15.85,-15.75,-15.65,-15.55,-15.45,-15.38,-15.3,-15.25,-15.22,-15.2,
          -15.2,-15.25,-15.18,-15.22,-15.25,-15.2,-15.28,-15.3,-15.25,-15.3,-15.32,-15.35,
          nan,-15.4,-15.42,-15.45,-15.48,-15.5,-15.7,-15.72,-15.75,-15.78,-15.8,-15.82,
          -15.85,-15.85,-15.88,-15.9,-15.9,-15.92,-15.95,-15.95,-15.98,-16.0,-16.0,-16.02]
vh4_hi = [-14.85,-14.9,-15.0,-14.95,-15.05,-14.9,nan,-14.85,-14.95,-14.9,-14.8,-14.75,
          -14.8,-14.7,-14.75,-14.65,-14.6,-14.7,-14.55,-14.5,-14.6,-14.55,-14.45,-14.3,
          -14.2,-14.0,-13.9,-13.75,-13.65,-13.6,-13.5,-13.4,-13.45,-13.3,-13.25,-13.2,
          -13.35,-13.3,-13.4,-13.15,-13.2,-13.3,-13.45,-13.35,-13.5,-13.55,-13.4,-13.6,
          nan,-13.5,-13.6,-13.55,-13.65,-13.7,-13.75,-13.9,-14.0,-14.1,-14.2,-14.3,
          -14.35,-14.4,-14.45,-14.5,-14.45,-14.55,-14.6,-14.65,-14.7,-14.75,-14.8,-14.85]
vh4_lo = [-16.9,-16.9,-16.9,-16.9,-16.9,-16.9,nan,-16.9,-16.9,-16.9,-16.9,-16.9,
          -16.9,-16.9,-16.9,-16.9,-16.9,-16.9,-16.9,-16.9,-16.9,-16.9,-16.9,-16.9,
          -16.9,-16.85,-16.8,-16.7,-16.6,-16.5,-16.45,-16.4,-16.4,-16.35,-16.4,-16.35,
          -16.3,-16.35,-16.4,-16.3,-16.35,-16.4,-16.3,-16.4,-16.45,-16.35,-16.4,-16.45,
          nan,-16.5,-16.55,-16.5,-16.6,-16.55,-16.65,-16.7,-16.7,-16.75,-16.8,-16.75,
          -16.8,-16.75,-16.8,-16.85,-16.8,-16.85,-16.8,-16.85,-16.9,-16.85,-16.9,-16.9]

hh4_med = [-11.4,-11.42,-11.45,-11.43,-11.45,-11.42,nan,-11.45,-11.48,-11.5,-11.48,-11.52,
           -11.5,-11.52,-11.55,-11.5,-11.52,-11.48,-11.45,-11.42,-11.4,-11.38,-11.35,-11.3,
           -11.25,-11.18,-11.1,-11.05,-10.98,-10.92,-10.85,-10.8,-10.75,-10.72,-10.68,-10.65,
           -10.6,-10.65,-10.62,-10.68,-10.7,-10.72,-10.7,-10.75,-10.72,-10.78,-10.75,-10.8,
           nan,-10.82,-10.85,-10.85,-10.88,-10.9,-11.0,-11.02,-11.05,-11.08,-11.1,-11.12,
           -11.15,-11.18,-11.2,-11.22,-11.25,-11.28,-11.3,-11.32,-11.35,-11.35,-11.38,-11.4]
hh4_q3 = [-11.0,-11.02,-11.05,-11.0,-11.08,-11.05,nan,-11.05,-11.08,-11.05,-11.1,-11.08,
          -11.05,-11.08,-11.1,-11.05,-11.08,-11.0,-10.98,-10.95,-10.92,-10.9,-10.85,-10.8,
          -10.75,-10.65,-10.58,-10.5,-10.45,-10.4,-10.35,-10.3,-10.28,-10.25,-10.22,-10.2,
          -10.2,-10.25,-10.22,-10.28,-10.3,-10.32,-10.3,-10.35,-10.32,-10.38,-10.4,-10.42,
          nan,-10.45,-10.48,-10.5,-10.52,-10.55,-10.65,-10.68,-10.7,-10.72,-10.75,-10.78,
          -10.8,-10.82,-10.85,-10.85,-10.88,-10.9,-10.9,-10.92,-10.95,-10.95,-10.98,-11.0]
hh4_q1 = [-11.88,-11.9,-11.88,-11.9,-11.92,-11.9,nan,-11.9,-11.92,-11.9,-11.92,-11.9,
          -11.9,-11.92,-11.9,-11.92,-11.9,-11.88,-11.85,-11.85,-11.82,-11.8,-11.75,-11.7,
          -11.65,-11.55,-11.45,-11.35,-11.28,-11.2,-11.15,-11.1,-11.05,-11.02,-11.0,-11.0,
          -11.0,-11.05,-11.02,-11.08,-11.1,-11.12,-11.1,-11.15,-11.12,-11.18,-11.2,-11.22,
          nan,-11.25,-11.28,-11.3,-11.32,-11.35,-11.5,-11.55,-11.58,-11.6,-11.62,-11.65,
          -11.68,-11.7,-11.72,-11.75,-11.78,-11.8,-11.8,-11.82,-11.85,-11.85,-11.88,-11.88]
hh4_hi = [-10.25,-10.3,-10.2,-10.35,-10.3,-10.25,nan,-10.3,-10.35,-10.3,-10.4,-10.35,
          -10.3,-10.35,-10.4,-10.35,-10.3,-10.25,-10.2,-10.1,-10.05,-9.95,-9.85,-9.75,
          -9.7,-9.6,-9.55,-9.5,-9.4,-9.35,-9.3,-9.4,-9.35,-9.5,-9.45,-9.5,
          -9.55,-9.6,-9.5,-9.65,-9.6,-9.7,-9.55,-9.75,-9.7,-9.65,-9.8,-9.75,
          nan,-9.7,-9.8,-9.85,-9.75,-9.9,-9.95,-10.0,-9.9,-10.05,-10.0,-10.1,
          -10.05,-10.1,-10.15,-10.1,-10.2,-10.15,-10.2,-10.25,-10.2,-10.3,-10.25,-10.3]
hh4_lo = [-11.95,-11.95,-11.95,-11.95,-11.95,-11.95,nan,-11.95,-11.95,-11.95,-11.95,-11.95,
          -11.95,-11.95,-11.95,-11.95,-11.95,-11.95,-11.95,-11.95,-11.95,-11.95,-11.95,-11.95,
          -11.95,-11.95,-11.95,-11.95,-11.95,-11.9,-11.85,-11.8,-11.75,-11.8,-11.7,-11.75,
          -11.7,-11.75,-11.8,-11.7,-11.75,-11.8,-11.75,-11.85,-11.8,-11.85,-11.9,-11.85,
          nan,-11.9,-11.95,-11.95,-11.95,-11.95,-11.95,-11.95,-11.95,-11.95,-11.95,-11.95,
          -11.95,-11.95,-11.95,-11.95,-11.95,-11.95,-11.95,-11.95,-11.95,-11.95,-11.95,-11.95]

# ---------------- half-hourly series (48 boxes / day) ----------------
sf1_med = [nan,nan,nan,.0095,.007,.004,.003,.002,.002,.0015,.0012,.001,
           .001,.001,.001,.0012,.0015,.001,.001,.003,.007,.009,.011,.014,
           .015,.0195,.02,.02,.021,.021,.022,.021,.022,.02,.02,.02,
           .016,.012,.009,.006,.004,.002,.002,.001,.001,.001,.0005,.0005]
sf1_q1 = [nan,nan,nan,.008,.005,.003,.002,.0015,.001,.001,.0008,.0006,
          .0006,.0006,.0006,.0008,.001,.0006,.0006,.002,.003,.004,.007,.011,
          .011,.011,.013,.012,.013,.013,.015,.013,.012,.013,.012,.015,
          .012,.009,.006,.004,.003,.0015,.001,.0006,.0006,.0005,.0003,.0003]
sf1_q3 = [nan,nan,nan,.011,.009,.005,.004,.003,.0025,.002,.0018,.0015,
          .0015,.0015,.0015,.0018,.002,.0015,.0015,.005,.009,.012,.014,.016,
          .018,.022,.023,.024,.024,.026,.027,.026,.026,.025,.024,.022,
          .018,.014,.011,.008,.005,.003,.0025,.0015,.0015,.0015,.001,.001]
sf1_lo = [nan,nan,nan,.006,.003,.002,.001,.0008,.0005,.0005,.0004,.0003,
          .0003,.0003,.0003,.0004,.0005,.0003,.0003,.001,.001,.001,.002,.004,
          .003,.004,.005,.005,.005,.005,.005,.006,.002,.005,.004,.005,
          .004,.003,.002,.002,.001,.0008,.0005,.0003,.0003,.0002,.0001,.0001]
sf1_hi = [nan,nan,nan,.0155,.011,.007,.005,.004,.004,.003,.003,.002,
          .002,.002,.002,.003,.003,.002,.002,.007,.012,.015,.019,.021,
          .024,.03,.032,.034,.034,.036,.035,.033,.05,.031,.038,.033,
          .025,.025,.016,.012,.006,.004,.004,.002,.002,.002,.0015,.0015]

sf2_med = [nan,nan,nan,.008,.005,.003,.002,.002,.001,.001,.001,.001,
           .0008,.0008,.002,.004,.005,.023,.046,.064,.074,.081,.083,.088,
           .09,.091,.09,.09,.089,.086,.085,.08,.079,.078,.073,.068,
           .056,.047,.036,.022,.015,.009,.005,.003,.002,.001,.0005,.0005]
sf2_q1 = [nan,nan,nan,.006,.004,.002,.0015,.0015,.0006,.0006,.0006,.0006,
          .0005,.0005,.001,.002,.001,.011,.034,.047,.065,.071,.076,.084,
          .087,.087,.086,.087,.084,.08,.077,.074,.072,.068,.065,.06,
          .05,.042,.032,.019,.012,.006,.003,.002,.001,.0005,.0003,.0003]
sf2_q3 = [nan,nan,nan,.01,.006,.004,.003,.003,.0015,.0015,.0015,.0015,
          .0012,.0012,.004,.006,.025,.054,.062,.072,.083,.088,.094,.098,
          .094,.095,.094,.094,.093,.092,.092,.087,.085,.083,.079,.072,
          .062,.052,.042,.027,.018,.012,.007,.005,.003,.002,.001,.001]
sf2_lo = [nan,nan,nan,.003,.002,.001,.001,.001,.0003,.0003,.0003,.0003,
          .0003,.0003,0,0,0,0,.012,.025,.035,.045,.045,.07,
          .08,.078,.079,.082,.077,.069,.054,.059,.055,.058,.051,.045,
          .043,.033,.025,.012,.008,.003,.002,.001,0,0,0,0]
sf2_hi = [nan,nan,nan,.013,.008,.005,.004,.004,.002,.002,.002,.002,
          .0015,.0015,.006,.009,.05,.09,.092,.105,.105,.108,.111,.112,
          .108,.112,.104,.106,.104,.101,.1,.096,.095,.094,.09,.085,
          .07,.06,.06,.033,.025,.015,.012,.008,.006,.003,.0015,.0015]

sf3_med = [nan,nan,nan,.009,.006,.004,.002,.001,.001,.001,.0008,.0008,
           .0006,.0006,.003,.003,.025,.047,.062,.075,.081,.085,.087,.09,
           .092,.0935,.094,.092,.091,.089,.089,.084,.083,.077,.075,.07,
           .06,.053,.04,.03,.015,.009,.006,.004,.002,.002,.001,.0005]
sf3_q1 = [nan,nan,nan,.008,.005,.003,.0015,.0006,.0006,.0006,.0004,.0004,
          .0003,.0003,.001,.001,.011,.034,.053,.068,.071,.078,.08,.082,
          .085,.085,.083,.083,.08,.08,.08,.074,.072,.07,.064,.06,
          .052,.046,.032,.025,.011,.007,.005,.003,.0015,.001,.0006,.0003]
sf3_q3 = [nan,nan,nan,.01,.007,.005,.003,.0015,.0015,.0015,.0012,.0012,
          .001,.001,.006,.025,.053,.075,.08,.083,.089,.093,.093,.096,
          .098,.101,.1,.102,.101,.1,.1,.094,.091,.088,.085,.077,
          .071,.063,.05,.035,.019,.012,.008,.005,.003,.003,.0015,.001]
sf3_lo = [nan,nan,nan,.008,.004,.002,.001,.0004,.0004,.0004,.0002,.0002,
          .0002,.0002,0,0,.003,.005,.013,.046,.046,.058,.063,.07,
          .075,.06,.063,.063,.063,.063,.063,.058,.054,.058,.055,.048,
          .045,.03,.02,.015,.006,.004,.003,.002,.001,.001,.0003,.0002]
sf3_hi = [nan,nan,nan,.011,.009,.006,.004,.002,.002,.002,.0015,.0015,
          .0015,.0015,.012,.06,.084,.099,.1,.106,.108,.11,.11,.11,
          .113,.116,.115,.116,.117,.116,.113,.108,.104,.1,.1,.096,
          .081,.08,.066,.048,.03,.017,.01,.007,.005,.004,.002,.0015]

sf4_med = [nan,nan,nan,.0095,.007,.005,.005,.003,.004,.004,.002,.002,
           .001,.0005,.001,.004,.01,.034,.048,.057,.064,.066,.067,.068,
           .072,.072,.071,.07,.071,.072,.071,.068,.067,.064,.06,.047,
           .038,.022,.016,.011,.008,.006,.005,.003,.003,.002,.001,.001]
sf4_q1 = [nan,nan,nan,.0068,.005,.004,.003,.002,.002,.002,.001,.001,
          .0005,.0003,.0005,.002,.007,.01,.015,.037,.053,.061,.062,.063,
          .068,.068,.067,.064,.065,.063,.065,.062,.06,.056,.049,.039,
          .027,.018,.013,.008,.006,.005,.004,.002,.002,.001,.0006,.0006]
sf4_q3 = [nan,nan,nan,.0117,.01,.007,.008,.005,.007,.007,.003,.003,
          .002,.001,.002,.006,.014,.037,.051,.064,.07,.074,.079,.079,
          .075,.075,.076,.076,.08,.078,.077,.075,.074,.07,.068,.056,
          .042,.027,.02,.014,.009,.007,.006,.004,.004,.003,.0015,.0015]
sf4_lo = [nan,nan,nan,.006,.003,.003,.002,.001,.001,.001,.0005,.001,
          .0002,.0001,0,0,.003,.001,.005,.003,.03,.045,.044,.055,
          .066,.064,.066,.056,.053,.058,.063,.058,.054,.048,.046,.033,
          .024,.013,.01,.005,.005,.004,.003,.001,.001,.0005,.0003,.0003]
sf4_hi = [nan,nan,nan,.0157,.013,.01,.01,.008,.01,.009,.005,.004,
          .003,.0015,.004,.01,.02,.058,.079,.091,.092,.092,.092,.09,
          .085,.085,.085,.085,.087,.084,.08,.084,.08,.08,.072,.066,
          .043,.031,.023,.018,.011,.009,.008,.005,.005,.004,.002,.002]

et1_med = [.008,.007,.008,.006,.009,.005,.003,.005,.005,.004,.002,.004,
           .006,.006,.003,.004,.006,.015,.037,.058,.088,.1,.1,.1,
           .105,.095,.115,.1,.1,.088,.07,.058,.045,.032,.015,.008,
           .003,.004,.006,.005,.004,.006,.005,.004,.006,.007,.003,.008]
et1_q1 = [.004,.003,.002,.003,.002,.002,.001,.002,.002,.001,.001,.001,
          .002,.003,.001,.001,.003,.01,.02,.035,.063,.07,.075,.06,
          .07,.075,.095,.073,.07,.068,.055,.045,.035,.02,.008,.004,
          .001,.001,.002,.002,.001,.002,.002,.001,.002,.002,.001,.003]
et1_q3 = [.014,.012,.016,.012,.017,.01,.007,.01,.01,.008,.004,.008,
          .01,.012,.006,.01,.012,.025,.05,.077,.105,.13,.135,.13,
          .137,.13,.16,.122,.12,.105,.085,.075,.055,.045,.02,.012,
          .005,.008,.012,.01,.008,.012,.01,.008,.012,.014,.006,.016]
et1_lo = [.002,.001,0,0,0,0,0,0,0,0,0,0,
          0,0,0,0,0,.002,.002,.002,.01,.03,.04,.02,
          .01,.03,.05,.035,.03,.03,.025,.015,.005,.003,.002,.001,
          0,0,0,0,0,0,0,0,0,0,0,0]
et1_hi = [.027,.025,.035,.025,.028,.02,.015,.02,.018,.016,.01,.017,
          .022,.022,.014,.018,.02,.045,.075,.105,.12,.22,.205,.195,
          .2,.2,.24,.18,.18,.15,.125,.1,.08,.075,.03,.022,
          .008,.015,.02,.018,.015,.02,.018,.015,.022,.025,.012,.028]

et2_med = [.003,.004,.003,.004,.003,.004,.004,.003,.004,.004,.004,.005,
           .005,.012,.03,.045,.075,.085,.11,.135,.15,.175,.185,.19,
           .21,.19,.2,.195,.195,.19,.16,.145,.125,.105,.085,.06,
           .04,.02,.01,.006,.004,.004,.003,.004,.003,.003,.004,.003]
et2_q1 = [.001,.001,.001,.001,.001,.001,.001,.001,.001,.001,.001,.002,
          .002,.006,.02,.035,.05,.06,.08,.11,.125,.15,.16,.16,
          .18,.17,.175,.165,.145,.14,.13,.12,.1,.08,.065,.045,
          .03,.015,.006,.003,.001,.001,.001,.001,.001,.001,.001,.001]
et2_q3 = [.006,.007,.006,.007,.006,.007,.006,.006,.007,.007,.007,.008,
          .009,.02,.04,.065,.09,.11,.13,.16,.185,.2,.21,.22,
          .23,.22,.23,.22,.215,.215,.19,.17,.15,.125,.095,.075,
          .05,.03,.015,.01,.007,.007,.006,.007,.006,.006,.007,.006]
et2_lo = [0,0,0,0,0,0,0,0,0,0,0,0,
          0,0,.002,.01,.015,.02,.03,.05,.06,.09,.11,.1,
          .14,.12,.1,.08,.06,.05,.07,.05,.03,.03,.01,.005,
          .005,.002,0,0,0,0,0,0,0,0,0,0]
et2_hi = [.01,.012,.01,.011,.011,.012,.01,.011,.012,.012,.015,.015,
          .015,.035,.06,.1,.13,.17,.17,.205,.24,.25,.26,.26,
          .28,.28,.285,.27,.27,.27,.24,.22,.2,.17,.12,.1,
          .06,.05,.025,.018,.013,.013,.012,.013,.012,.013,.012,.012]

et3_med = [.003,.003,.004,.003,.003,.004,.003,.003,.004,.003,.003,.004,
           .004,.006,.018,.035,.047,.075,.083,.1,.12,.125,.14,.145,
           .155,.15,.145,.14,.14,.14,.125,.12,.105,.09,.07,.05,
           .03,.015,.006,.004,.004,.003,.004,.003,.004,.003,.004,.003]
et3_q1 = [.001,.001,.001,.001,.001,.001,.001,.001,.001,.001,.001,.001,
          .002,.003,.012,.025,.04,.06,.07,.085,.1,.105,.12,.125,
          .135,.125,.125,.12,.12,.115,.11,.1,.09,.075,.06,.04,
          .02,.008,.003,.001,.001,.001,.001,.001,.001,.001,.001,.001]
et3_q3 = [.005,.005,.006,.005,.005,.006,.005,.005,.006,.005,.005,.006,
          .007,.01,.025,.045,.06,.098,.105,.125,.14,.155,.16,.165,
          .18,.17,.165,.155,.16,.16,.14,.14,.12,.105,.085,.06,
          .037,.02,.01,.006,.006,.005,.006,.005,.006,.005,.006,.005]
et3_lo = [0,0,0,0,0,0,0,0,0,0,0,0,
          0,0,.003,.01,.015,.025,.035,.055,.07,.08,.085,.09,
          .1,.105,.1,.085,.08,.075,.07,.06,.045,.04,.03,.015,
          .008,.002,0,0,0,0,0,0,0,0,0,0]
et3_hi = [.01,.01,.01,.01,.01,.01,.01,.01,.01,.01,.011,.01,
          .012,.015,.04,.075,.095,.13,.16,.18,.18,.23,.22,.23,
          .24,.225,.245,.2,.215,.215,.17,.185,.13,.125,.115,.08,
          .055,.035,.018,.012,.012,.01,.012,.01,.012,.01,.012,.01]

et4_med = [.003,.004,.003,.003,.004,.003,.004,.004,.003,.003,.004,.003,
           .003,.004,.004,.012,.016,.03,.043,.046,.057,.075,.079,.079,
           .089,.089,.081,.079,.082,.06,.057,.046,.036,.025,.011,.005,
           .003,.004,.003,.003,.004,.003,.004,.003,.003,.004,.003,.004]
et4_q1 = [.001,.001,.001,.001,.001,.001,.001,.001,.001,.001,.001,.001,
          .001,.001,.002,.006,.007,.018,.025,.029,.05,.05,.05,.05,
          .064,.068,.063,.061,.061,.046,.043,.036,.021,.014,.004,.002,
          .001,.001,.001,.001,.001,.001,.001,.001,.001,.001,.001,.001]
et4_q3 = [.006,.007,.006,.006,.007,.006,.007,.007,.006,.006,.007,.006,
          .006,.007,.008,.018,.025,.046,.061,.079,.086,.109,.111,.111,
          .118,.114,.12,.104,.104,.093,.079,.061,.05,.036,.018,.008,
          .006,.007,.006,.006,.007,.006,.007,.006,.006,.007,.006,.007]
et4_lo = [0,0,0,0,0,0,0,0,0,0,0,0,
          0,0,0,0,.002,.004,.004,.007,.004,.014,.018,.029,
          .007,.037,.036,.034,.021,.029,.018,.011,.007,.004,.002,0,
          0,0,0,0,0,0,0,0,0,0,0,0]
et4_hi = [.012,.013,.012,.012,.014,.012,.013,.014,.012,.012,.013,.012,
          .012,.013,.015,.03,.04,.082,.107,.15,.139,.182,.184,.182,
          .2,.161,.168,.168,.139,.139,.122,.089,.068,.061,.029,.015,
          .012,.013,.012,.012,.014,.012,.013,.012,.012,.014,.012,.014]

vp1_med = [.3,.35,.3,.25,.25,.25,.25,.25,.25,.2,.2,.2,
           .15,.1,.2,.2,.2,.3,.45,.65,.8,.95,1.2,1.3,
           1.4,1.6,1.7,1.75,1.9,1.9,2.0,1.95,1.9,1.75,1.6,1.45,
           1.15,1.1,.95,.8,.7,.55,.5,.45,.4,.35,.35,.35]
vp1_q1 = [.15,.15,.15,.1,.1,.1,.1,.1,.1,.05,.05,.05,
          .05,0,.05,.05,.05,.15,.3,.45,.5,.7,.85,1.0,
          1.1,1.2,1.3,1.3,1.4,1.4,1.5,1.5,1.4,1.3,1.2,1.0,
          .95,.75,.65,.5,.4,.35,.3,.25,.2,.2,.2,.15]
vp1_q3 = [.5,.55,.5,.45,.45,.4,.45,.45,.45,.4,.4,.4,
          .3,.2,.35,.35,.35,.45,.65,.85,1.15,1.35,1.65,1.8,
          1.95,1.95,2.1,2.2,2.3,2.3,2.4,2.4,2.35,2.25,2.0,1.85,
          1.55,1.45,1.3,1.15,.95,.8,.75,.65,.6,.55,.5,.55]
vp1_lo = [0,0,0,0,0,0,0,0,0,0,0,0,
          0,0,0,0,0,0,.05,.1,.15,.2,.3,.4,
          .4,.5,.5,.6,.6,.6,.6,.7,.6,.5,.5,.4,
          .4,.3,.2,.2,.1,.05,0,0,0,0,0,0]
vp1_hi = [1.0,1.05,.9,.7,.65,.6,.7,.65,.65,.6,.6,.6,
          .5,.4,.6,.6,.55,.8,1.05,1.35,1.9,1.85,2.75,2.9,
          2.5,2.9,3.0,3.5,3.6,3.55,3.55,3.55,3.5,3.35,3.15,3.05,
          2.7,2.35,2.05,2.0,1.8,1.4,1.4,1.3,1.1,1.1,.95,.95]

vp2_med = [.8,.8,.75,.7,.6,.55,.5,.45,.45,.45,.4,.4,
           .35,.4,.45,.7,.85,1.0,1.05,1.3,1.4,1.65,1.9,2.1,
           2.3,2.6,2.85,3.05,3.15,3.15,3.3,3.35,3.45,3.45,3.35,3.1,
           3.05,2.6,2.05,1.85,1.6,1.35,1.3,1.2,1.1,.95,.95,.9]
vp2_q1 = [.5,.5,.45,.4,.35,.3,.3,.25,.25,.25,.2,.2,
          .2,.2,.25,.4,.55,.7,.8,.95,1.15,1.3,1.5,1.6,
          1.8,2.1,2.3,2.5,2.6,2.65,2.7,2.7,2.8,2.75,2.65,2.5,
          2.3,2.0,1.45,1.25,1.1,.95,.9,.85,.75,.7,.65,.55]
vp2_q3 = [1.1,1.1,1.05,1.0,.9,.85,.8,.75,.7,.7,.65,.65,
          .55,.6,.65,1.0,1.2,1.35,1.55,1.6,1.95,2.2,2.45,2.55,
          2.8,3.2,3.6,3.8,4.0,4.3,4.45,4.4,4.4,4.45,4.35,4.1,
          3.9,3.8,3.1,2.65,2.2,1.9,1.75,1.65,1.55,1.5,1.3,1.2]
vp2_lo = [.2,.2,.2,.2,.15,.1,.1,.1,.05,.05,.05,.05,
          .05,.05,.1,.15,.2,.3,.3,.4,.5,.6,.7,.8,
          .8,.9,1.0,1.2,1.2,1.3,1.4,1.3,1.4,1.3,1.2,1.2,
          1.0,.8,.7,.6,.5,.4,.3,.3,.3,.3,.3,.3]
vp2_hi = [1.8,2.0,1.8,1.6,1.6,1.55,1.5,1.2,1.2,1.15,1.0,1.0,
          1.0,1.0,1.2,1.8,1.9,2.2,2.6,2.7,3.1,3.7,3.8,4.1,
          4.4,5.0,4.9,5.5,5.9,6.3,6.7,6.4,6.3,6.3,6.0,6.0,
          6.0,6.0,5.0,4.2,3.5,3.2,3.2,2.6,2.5,2.5,2.1,2.0]

vp3_med = [1.5,1.4,1.35,1.2,1.1,1.0,.95,.85,.8,.8,.75,.7,
           .7,.75,.8,.8,1.0,1.35,1.7,2.1,2.35,2.75,3.5,3.55,
           4.0,4.5,4.95,5.4,5.7,6.0,6.4,6.4,6.45,6.6,6.35,6.2,
           5.7,5.3,4.65,4.0,3.45,3.0,2.75,2.4,2.25,2.15,1.9,1.7]
vp3_q1 = [.9,.85,.8,.8,.7,.6,.55,.5,.45,.45,.4,.4,
          .35,.4,.4,.45,.6,.9,1.1,1.45,1.7,2.0,2.45,2.7,
          3.0,3.7,3.75,4.4,4.4,4.9,5.1,5.2,5.2,5.4,5.2,5.2,
          4.65,4.2,3.3,2.9,2.5,1.95,1.95,1.6,1.5,1.3,1.3,1.05]
vp3_q3 = [2.1,2.1,2.05,2.0,1.75,1.7,1.6,1.5,1.5,1.45,1.4,1.3,
          1.3,1.4,1.55,1.95,2.7,3.0,3.6,4.1,4.2,4.5,4.8,5.1,
          5.6,6.0,6.45,6.8,7.0,7.35,7.7,7.7,7.8,7.6,7.45,7.0,
          6.6,6.0,5.7,4.9,4.15,4.1,3.55,3.3,3.0,2.85,2.45,2.35]
vp3_lo = [.5,.45,.5,.4,.3,.3,.3,.3,.3,.25,.2,.2,
          .2,.2,.2,.2,.3,.4,.5,.6,.7,1.0,1.0,1.2,
          1.5,1.8,2.0,2.2,2.5,2.4,2.8,3.0,3.1,3.2,3.0,2.7,
          2.5,2.2,1.8,1.6,1.4,1.3,1.1,1.0,.8,.8,.7,.6]
vp3_hi = [3.8,3.8,3.7,3.7,3.4,3.4,3.3,3.3,3.05,3.0,2.9,2.7,
          2.6,2.7,2.85,3.0,5.3,5.4,6.4,7.6,7.2,7.9,7.7,8.1,
          8.7,8.7,8.7,8.7,8.7,8.7,8.7,8.7,8.7,8.7,8.6,8.1,
          7.8,8.5,7.9,7.4,6.9,6.0,5.5,4.5,4.5,3.9,3.8,3.65]

vp4_med = [.75,.7,.7,.65,.65,.6,.6,.6,.55,.55,.55,.5,
           .5,.5,.55,.6,.75,.95,1.2,1.5,1.8,2.1,2.35,2.6,
           2.75,2.9,3.0,3.1,3.2,3.3,3.35,3.4,3.4,3.35,3.2,2.9,
           2.6,2.2,1.9,1.7,1.5,1.35,1.25,1.15,1.1,1.0,1.0,.95]
vp4_q1 = [.4,.4,.4,.35,.35,.35,.3,.3,.3,.3,.3,.25,
          .25,.25,.3,.35,.45,.6,.8,1.0,1.3,1.5,1.7,1.9,
          2.0,2.1,2.2,2.3,2.4,2.4,2.5,2.5,2.5,2.45,2.3,2.1,
          1.9,1.6,1.35,1.2,1.05,.95,.85,.8,.75,.7,.65,.65]
vp4_q3 = [1.1,1.05,1.05,1.0,1.0,.95,.95,.9,.9,.85,.85,.85,
          .8,.8,.85,.95,1.1,1.35,1.7,2.0,2.4,2.8,3.1,3.4,
          3.6,3.8,3.9,4.0,4.1,4.2,4.3,4.3,4.35,4.3,4.1,3.8,
          3.4,2.9,2.5,2.25,2.0,1.8,1.7,1.6,1.5,1.4,1.35,1.3]
vp4_lo = [.1,.1,.1,.1,.05,.05,.05,.05,.05,.05,.05,.05,
          .05,.05,.05,.1,.15,.2,.3,.4,.5,.6,.7,.8,
          .9,1.0,1.0,1.1,1.1,1.1,1.2,1.2,1.1,1.1,1.0,.9,
          .8,.7,.6,.5,.4,.35,.3,.3,.3,.25,.25,.2]
vp4_hi = [1.7,1.65,1.6,1.6,1.55,1.5,1.5,1.45,1.4,1.4,1.35,1.3,
          1.3,1.3,1.35,1.5,1.9,2.4,3.0,3.6,4.2,4.8,5.2,5.6,
          5.9,6.1,6.3,6.4,6.5,6.5,6.6,6.5,6.5,6.4,6.1,5.6,
          4.9,4.2,3.6,3.2,2.9,2.6,2.4,2.2,2.0,1.9,1.8,1.7]

# ---------------- labels / periods ----------------
periods = ['Mid-Dec 2020-Janv 2021', 'Apr-May 2021', 'Jul-Aug 2021', 'Oct-Nov 2021']
red_spans = [(8, 12.5), (6, 10), (7, 10), (7.5, 11.5)]
blue_spans = [(12.5, 18), (10, 23), (10, 23), (11.5, 19)]
vlines = [[6, 8, 12, 12.5, 18], [6, 10, 12, 18], [6, 7, 10, 12, 18], [6, 7.5, 11.5, 12, 18]]
row_labels = [r'$\mathbf{I}_{\mathbf{VV}}$ (dB)', r'$\mathbf{I}_{\mathbf{VH}}$ (dB)',
              r'$\mathbf{I}_{\mathbf{HH}}$ (dB)', 'Sapflow (mm)', 'ETR (mm)', 'VPD (KPa)']
row_ylims = [(-9.96, -6.07), (-16.88, -12.97), (-11.9, -8.0), (0, 0.12), (-0.0145, 0.3), (0, 9)]
row_ticks = [[-9.5, -9.0, -8.5, -8.0, -7.5, -7.0, -6.5],
             [-16.5, -16.0, -15.5, -15.0, -14.5, -14.0, -13.5],
             [-11.5, -11.0, -10.5, -10.0, -9.5, -9.0, -8.5],
             [0, 0.02, 0.04, 0.06, 0.08, 0.1, 0.12],
             [0, 0.05, 0.1, 0.15, 0.2, 0.25, 0.3],
             [0, 1, 2, 3, 4, 5, 6, 7, 8, 9]]
row_ticklabels = [['-9.5', '-9.0', '-8.5', '-8.0', '-7.5', '-7.0', '-6.5'],
                  ['-16.5', '-16.0', '-15.5', '-15.0', '-14.5', '-14.0', '-13.5'],
                  ['-11.5', '-11.0', '-10.5', '-10.0', '-9.5', '-9.0', '-8.5'],
                  ['', '0.02', '', '0.06', '', '0.1', ''],
                  ['', '0.05', '', '0.15', '', '0.25', ''],
                  ['0', '', '2.0', '', '4.0', '', '6.0', '', '8.0', '']]
hour_labels = ['00:00', '02:00', '04:00', '06:00', '08:00', '10:00',
               '12:00', '14:00', '16:00', '18:00', '20:00', '22:00']

data = {
    (0, 0): (vv1_med, vv1_q1, vv1_q3, vv1_lo, vv1_hi), (0, 1): (vv2_med, vv2_q1, vv2_q3, vv2_lo, vv2_hi),
    (0, 2): (vv3_med, vv3_q1, vv3_q3, vv3_lo, vv3_hi), (0, 3): (vv4_med, vv4_q1, vv4_q3, vv4_lo, vv4_hi),
    (1, 0): (vh1_med, vh1_q1, vh1_q3, vh1_lo, vh1_hi), (1, 1): (vh2_med, vh2_q1, vh2_q3, vh2_lo, vh2_hi),
    (1, 2): (vh3_med, vh3_q1, vh3_q3, vh3_lo, vh3_hi), (1, 3): (vh4_med, vh4_q1, vh4_q3, vh4_lo, vh4_hi),
    (2, 0): (hh1_med, hh1_q1, hh1_q3, hh1_lo, hh1_hi), (2, 1): (hh2_med, hh2_q1, hh2_q3, hh2_lo, hh2_hi),
    (2, 2): (hh3_med, hh3_q1, hh3_q3, hh3_lo, hh3_hi), (2, 3): (hh4_med, hh4_q1, hh4_q3, hh4_lo, hh4_hi),
    (3, 0): (sf1_med, sf1_q1, sf1_q3, sf1_lo, sf1_hi), (3, 1): (sf2_med, sf2_q1, sf2_q3, sf2_lo, sf2_hi),
    (3, 2): (sf3_med, sf3_q1, sf3_q3, sf3_lo, sf3_hi), (3, 3): (sf4_med, sf4_q1, sf4_q3, sf4_lo, sf4_hi),
    (4, 0): (et1_med, et1_q1, et1_q3, et1_lo, et1_hi), (4, 1): (et2_med, et2_q1, et2_q3, et2_lo, et2_hi),
    (4, 2): (et3_med, et3_q1, et3_q3, et3_lo, et3_hi), (4, 3): (et4_med, et4_q1, et4_q3, et4_lo, et4_hi),
    (5, 0): (vp1_med, vp1_q1, vp1_q3, vp1_lo, vp1_hi), (5, 1): (vp2_med, vp2_q1, vp2_q3, vp2_lo, vp2_hi),
    (5, 2): (vp3_med, vp3_q1, vp3_q3, vp3_lo, vp3_hi), (5, 3): (vp4_med, vp4_q1, vp4_q3, vp4_lo, vp4_hi),
}

# ---------------- style ----------------
plt.rcParams['font.family'] = ['Liberation Sans', 'DejaVu Sans']
plt.rcParams['font.weight'] = 'bold'
plt.rcParams['mathtext.fontset'] = 'custom'
plt.rcParams['mathtext.bf'] = 'Liberation Sans:bold'
plt.rcParams['mathtext.rm'] = 'Liberation Sans:bold'

W, H = 1767, 998
fig = plt.figure(figsize=(W / 100, H / 100), dpi=100)

ax_left0, ax_dx, ax_w = 90, 424, 416
ax_top0, ax_h = 37, 146.9

def make_stats(med, q1, q3, lo, hi, step, offset):
    stats, pos = [], []
    for k, (m, a, b, l, h) in enumerate(zip(med, q1, q3, lo, hi)):
        if np.isnan(m):
            continue
        stats.append(dict(med=m, q1=a, q3=b, whislo=l, whishi=h, fliers=[]))
        pos.append((k + offset) * step)
    return stats, pos

for r in range(6):
    for c in range(4):
        left = (ax_left0 + ax_dx * c) / W
        bottom = 1 - (ax_top0 + ax_h * (r + 1)) / H
        ax = fig.add_axes([left, bottom, ax_w / W, ax_h / H])
        ax.set_xlim(0, 24)
        ax.set_ylim(*row_ylims[r])

        ax.set_xticks(np.arange(0, 23, 2))
        ax.set_xticks(np.arange(1, 24, 2), minor=True)
        ax.yaxis.set_major_locator(FixedLocator(row_ticks[r]))
        ax.yaxis.set_major_formatter(FixedFormatter(row_ticklabels[r]))
        ax.grid(True, which='both', axis='x', color='#d2d2d2', lw=0.9, zorder=0)
        ax.grid(True, which='major', axis='y', color='#d2d2d2', lw=0.9, zorder=0)
        ax.set_axisbelow(True)

        med, q1, q3, lo, hi = data[(r, c)]
        if r < 3:
            st, pos = make_stats(med, q1, q3, lo, hi, 1 / 3, 0.5)
            w = 0.22
            ax.bxp(st, positions=pos, widths=w, capwidths=w * 0.4, patch_artist=True,
                   showfliers=False, manage_ticks=False,
                   boxprops=dict(facecolor='#8a8af2', edgecolor='#2a2ae6', linewidth=0.7),
                   whiskerprops=dict(color='black', linewidth=1.5, linestyle=(0, (2.4, 2.2))),
                   capprops=dict(color='black', linewidth=0.8),
                   medianprops=dict(color='#c81818', linewidth=1.4))
        else:
            st, pos = make_stats(med, q1, q3, lo, hi, 0.5, 0)
            w = 0.25
            ax.bxp(st, positions=pos, widths=w, capwidths=w * 0.5, patch_artist=True,
                   showfliers=False, manage_ticks=False,
                   boxprops=dict(facecolor='none', edgecolor='#0000e0', linewidth=1.3),
                   whiskerprops=dict(color='black', linewidth=1.4, linestyle=(0, (2.4, 2.0))),
                   capprops=dict(color='black', linewidth=1.1),
                   medianprops=dict(color='#ee0000', linewidth=1.3))

        for xv in vlines[c]:
            ax.axvline(xv, color='black', lw=0.9, ls=(0, (5, 2, 1, 2)), zorder=4)
        ax.axvspan(*red_spans[c], color='red', alpha=0.2, lw=0, zorder=6)
        ax.axvspan(*blue_spans[c], color='blue', alpha=0.1, lw=0, zorder=6)

        ax.tick_params(axis='both', which='both', direction='in', top=True, right=True,
                       length=4, width=1.1, color='#202020')
        ax.tick_params(axis='y', labelsize=11)
        ax.tick_params(axis='x', labelsize=11.5, labelrotation=90)
        for s in ax.spines.values():
            s.set_color('#3a3a3a')
            s.set_linewidth(1.4)
            s.set_zorder(8)

        if c == 0:
            ax.set_ylabel(row_labels[r], fontsize=15 if r < 3 else 12.5, fontweight='bold')
            ax.yaxis.set_label_coords(-0.13, 0.5)
            for t in ax.get_yticklabels():
                t.set_fontweight('bold')
        else:
            ax.tick_params(axis='y', labelleft=False)
        if r == 5:
            ax.set_xticklabels(hour_labels)
            for t in ax.get_xticklabels():
                t.set_fontweight('bold')
        else:
            ax.tick_params(axis='x', labelbottom=False)
        if r == 0:
            ax.set_title(periods[c], fontsize=15, fontweight='bold', pad=6)

fig.text(922 / W, 1 - 987 / H, 'Date time', ha='center', va='center', fontsize=14.5, fontweight='bold')

fig.savefig('out.png', dpi=100)
